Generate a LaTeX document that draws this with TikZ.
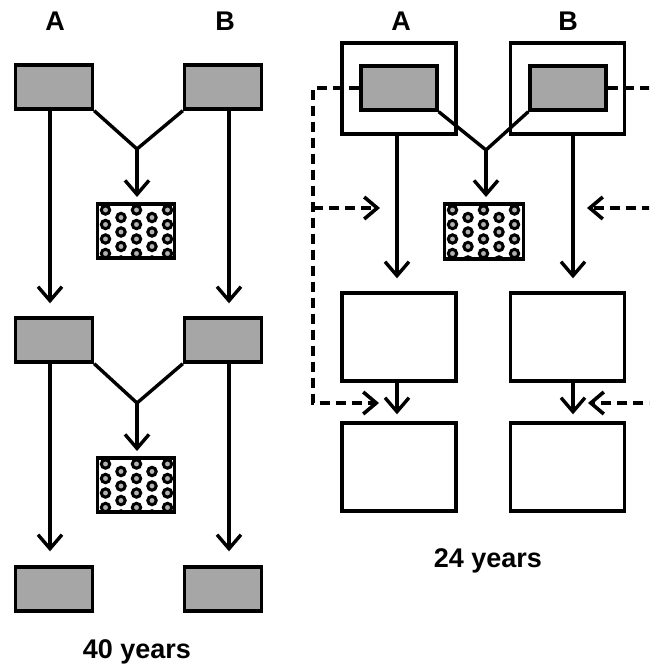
\documentclass[tikz,border=0pt]{standalone}
\usepackage{fontspec}
\setmainfont{Liberation Sans}
\usetikzlibrary{arrows.meta}

\newcommand{\ringfill}[1]{%
  \begin{scope}
    \clip (#1.south west) rectangle (#1.north east);
    \foreach \i in {0,...,5}
      \foreach \j in {0,...,4}{
        \pgfmathsetmacro{\off}{mod(\i,2)*7.5}
        \draw[line width=3pt,fill=black!30] ([shift={(8+15.5*\i,6+14.5*\j+\off)}]#1.north west) circle (4.2pt);
      }
  \end{scope}
  \draw[ln] (#1.south west) rectangle (#1.north east);}

\begin{document}
\begin{tikzpicture}[x=1pt,y=-1pt,
  ln/.style={line width=3.4pt},
  graybox/.style={draw,ln,fill=black!35,minimum width=77pt,minimum height=44pt,inner sep=0pt},
  framebox/.style={draw,ln,minimum width=114pt,minimum height=91pt,inner sep=0pt},
  whitebox/.style={draw,ln,fill=white,minimum width=114pt,minimum height=88pt,inner sep=0pt},
  dotbox/.style={draw,ln,fill=white,minimum width=77pt,minimum height=54pt,inner sep=0pt,outer sep=0pt},
  arr/.style={ln,-{Straight Barb[length=14pt,width=24pt]}},
  dline/.style={line width=3.6pt,dash pattern=on 10pt off 6pt},
  darr/.style={dline,-{Straight Barb[length=13pt,width=22pt]}},
  lab/.style={font=\bfseries\fontsize{27}{30}\selectfont,anchor=base,inner sep=0pt}]
\useasboundingbox (0,0) rectangle (649,664);
\clip (0,0) rectangle (649,664);
% left: 40 years
\node[lab] (ta1) at (55,30) {A};
\node[lab] (tb1) at (225,30) {B};
\node[graybox] (a1) at (54,87) {};
\node[graybox] (b1) at (223,87) {};
\node[dotbox] (p1) at (136,231) {};
\ringfill{p1}
\node[graybox] (a2) at (54,340) {};
\node[graybox] (b2) at (223,340) {};
\node[dotbox] (p2) at (136,485) {};
\ringfill{p2}
\node[graybox] (a3) at (54,589) {};
\node[graybox] (b3) at (223,589) {};
\node[lab] (t40) at (137,658) {40 years};
\coordinate (j1) at (137,149);
\coordinate (j2) at (137,403);
\draw[ln] (a1.south east) -- (j1) -- (b1.south west);
\draw[arr,shorten >=7pt] (j1) -- (j1 |- p1.north);
\draw[ln] (a2.south east) -- (j2) -- (b2.south west);
\draw[arr,shorten >=7pt] (j2) -- (j2 |- p2.north);
\draw[arr,shorten >=13pt] ([xshift=-4pt]a1.south) -- ([xshift=-4pt]a2.north);
\draw[arr,shorten >=13pt] ([xshift=6pt]b1.south) -- ([xshift=6pt]b2.north);
\draw[arr,shorten >=14pt] ([xshift=-4pt]a2.south) -- ([xshift=-4pt]a3.north);
\draw[arr,shorten >=14pt] ([xshift=6pt]b2.south) -- ([xshift=6pt]b3.north);
% right: 24 years
\node[lab] (ta2) at (401,30) {A};
\node[lab] (tb2) at (568,30) {B};
\node[framebox] (fa) at (399,88.5) {};
\node[framebox] (fb) at (567.5,88.5) {};
\node[graybox,minimum width=76pt] (ia) at (399,88) {};
\node[graybox,minimum width=76pt] (ib) at (568,88) {};
\node[dotbox,minimum width=79pt,minimum height=55pt] (p3) at (484,231.5) {};
\ringfill{p3}
\node[whitebox] (ma) at (399,337) {};
\node[whitebox] (mb) at (567.5,337) {};
\node[whitebox] (la) at (399,467) {};
\node[whitebox] (lb) at (567.5,467) {};
\node[lab] (t24) at (488,567) {24 years};
\coordinate (j3) at (486,150);
\draw[ln] (ia.south east) -- (j3) -- (ib.south west);
\draw[arr,shorten >=7pt] (j3) -- (j3 |- p3.north);
\draw[arr,shorten >=13pt] ([xshift=-2pt]fa.south) -- ([xshift=-2pt]ma.north);
\draw[arr,shorten >=13pt] ([xshift=5.5pt]fb.south) -- ([xshift=5.5pt]mb.north);
\draw[arr,shorten >=7pt] ([xshift=-2pt]ma.south) -- ([xshift=-2pt]la.north);
\draw[arr,shorten >=7pt] ([xshift=5.5pt]mb.south) -- ([xshift=5.5pt]lb.north);
% dashed feedback
\coordinate (lt) at (313,88);
\coordinate (lm) at (313,208);
\coordinate (lbt) at (313,403);
\coordinate (lme) at (380,208);
\coordinate (lbe) at (379,403);
\coordinate (rt) at (652,88);
\coordinate (rm) at (652,208);
\coordinate (rbt) at (652,403);
\coordinate (rme) at (587,208);
\coordinate (rbe) at (588,403);
\draw[darr] (ia.west) -- (lt) -- (lbt) -- (lbe);
\draw[darr] (lm) -- (lme);
\draw[darr] (ib.east) -- (rt) -- (rbt) -- (rbe);
\draw[darr] (rm) -- (rme);
\end{tikzpicture}
\end{document}
